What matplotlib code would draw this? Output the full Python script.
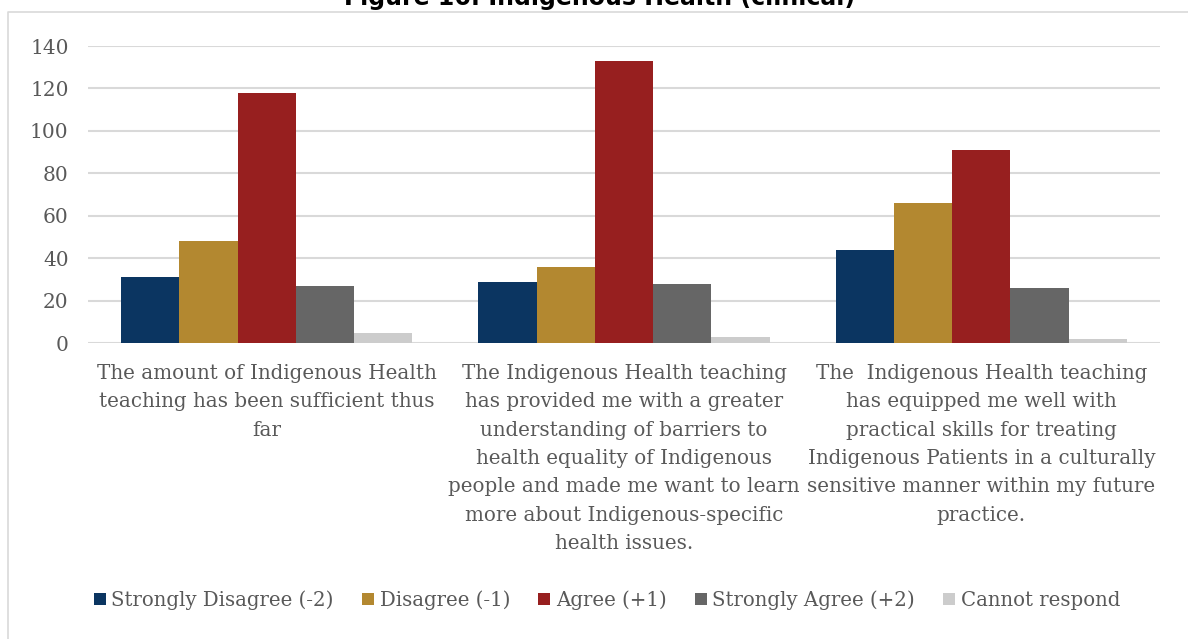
import numpy as np
import matplotlib.pyplot as plt
from matplotlib.lines import Line2D

# survey responses per statement
categories = [
    'The amount of Indigenous Health\nteaching has been sufficient thus\nfar',
    'The Indigenous Health teaching\nhas provided me with a greater\nunderstanding of barriers to\n'
    'health equality of Indigenous\npeople and made me want to learn\n'
    'more about Indigenous-specific\nhealth issues.',
    'The  Indigenous Health teaching\nhas equipped me well with\npractical skills for treating\n'
    'Indigenous Patients in a culturally\nsensitive manner within my future\npractice.',
]
series_names = ['Strongly Disagree (-2)', 'Disagree (-1)', 'Agree (+1)',
                'Strongly Agree (+2)', 'Cannot respond']
strongly_disagree = [31, 29, 44]
disagree = [48, 36, 66]
agree = [118, 133, 91]
strongly_agree = [27, 28, 26]
cannot_respond = [5, 3, 2]
yticks = [0, 20, 40, 60, 80, 100, 120, 140]

colors = ['#0b3561', '#b38830', '#971f1f', '#666666', '#cccccc']
values = [strongly_disagree, disagree, agree, strongly_agree, cannot_respond]

W, H = 1188, 639
fig = plt.figure(figsize=(W / 100, H / 100), dpi=100)
ax = fig.add_axes([88 / W, 1 - 343.3 / H, (1160 - 88) / W, (343.3 - 46) / H])

# outer chart border: left and top edges only
bx, by = 8 / W, 1 - 12 / H
fig.lines.append(Line2D([bx, bx, 1.01], [-0.01, by, by], transform=fig.transFigure,
                        color='#d9d9d9', lw=1.2))

x = np.arange(len(categories))
bw = 0.163
for i, (name, vals, c) in enumerate(zip(series_names, values, colors)):
    ax.bar(x + (i - 2) * bw, vals, bw, color=c, label=name, zorder=3)

ax.set_xlim(-0.5, 2.5)
ax.set_ylim(0, 140)
ax.set_yticks(yticks)
ax.yaxis.grid(True, color='#d9d9d9', lw=1.5, zorder=0)
ax.set_axisbelow(True)
for s in ax.spines.values():
    s.set_visible(False)
ax.tick_params(length=0, labelsize=14.5, labelcolor='#595959', pad=14)
for lab in ax.get_yticklabels():
    lab.set_family('DejaVu Serif')
ax.set_xticks([])

for xi, cat in zip(x, categories):
    ax.text(xi, -0.07, cat, transform=ax.get_xaxis_transform(), ha='center', va='top',
            fontsize=14.3, family='DejaVu Serif', color='#595959', linespacing=1.62)

fig.text(600 / W, 1 - 5 / H, 'Figure 16: Indigenous Health (clinical)', ha='center',
         va='baseline', fontsize=17, fontweight='bold', family='DejaVu Sans', color='#000000')

leg = fig.legend(loc='center', bbox_to_anchor=(607 / W, 1 - 600 / H), ncol=5, frameon=False,
                 handlelength=0.6, handleheight=0.6, handletextpad=0.3, columnspacing=1.42,
                 prop={'family': 'DejaVu Serif', 'size': 14.2})
for t in leg.get_texts():
    t.set_color('#595959')

fig.savefig('out.png', dpi=100)
